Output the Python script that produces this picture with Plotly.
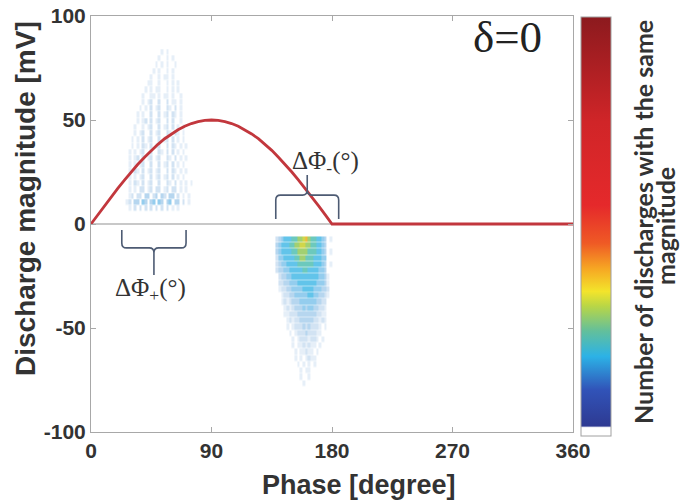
import plotly.graph_objects as go

# Reference half-wave voltage (mV) against phase (degrees)
phase_ref = [0, 5, 10, 15, 20, 25, 30, 35, 40, 45, 50, 55, 60, 65, 70, 75, 80, 85, 90,
             95, 100, 105, 110, 115, 120, 125, 130, 135, 140, 145, 150, 155, 160, 165,
             170, 175, 180, 360]
volt_ref = [0, 4.4, 8.7, 12.9, 17.1, 21.1, 25, 28.7, 32.1, 35.4, 38.3, 41, 43.3, 45.3,
            47, 48.3, 49.2, 49.8, 50, 49.8, 49.2, 48.3, 47, 45.3, 43.3, 41, 38.3, 35.4,
            32.1, 28.7, 25, 21.1, 17.1, 12.9, 8.7, 4.4, 0, 0]

# Discharge counts binned by phase (2 degree bins) and magnitude (3 mV bins).
# Each string is one magnitude row, top row first; '.' means no discharge.
phase_bin = 2
mag_bin = 3

pos_phase_start = 22
pos_mag_top = 84
pos_rows = [
    "...............1.1.........",
    "..............1..1.1.......",
    ".............1.1.1..1......",
    "............1.1..1.1.......",
    "...........1..1.11.1.......",
    "..........11..1..1.1.1.....",
    ".........1.1.11..1.1.1.....",
    "........1..11.1.11.1..1....",
    "........1.12..2..2.11.1....",
    ".......1.1.2.12..21.2.1....",
    "......1.1..2..2.12.21.1....",
    "......1.12.2.12..2.2..1....",
    ".....1..1.12..2.12.2.1.1...",
    ".....1.12..2.12..21.21.1...",
    "....1.1.2.12..2.12.2.1.1...",
    "....1.1.21.2.12..2.21.1.1..",
    "...1.1.12..2..21.2.2.1.1...",
    "...1.12.2.12.12..21.2.1.1..",
    "...1.1.12..2..2.12.2.1.1...",
    "...1.21.2.12.12..2.21.1.1..",
    "...1.1.12..2.12.12.2.1.1...",
    "...1.21.2.12..2..21.2.1.1.1",
    "...1.1.22.12.22.12.22.1.1..",
    "...12.22.33.23.32.33.2.1.1.",
    "..12.33.43.34.43.34.33.2.1.",
    "...1.2.2.2.2.2.2.2.1.1.....",
]

neg_phase_start = 134
neg_mag_top = -6
neg_rows = [
    "..2345556677897665543.1",
    "..3455566778877665543..",
    "..3455556677776665543.1",
    "..2445555667766655544..",
    "..2344555566666655543.1",
    "..2334455555665555443..",
    "...2334455555555554431.",
    "...2233444555555544431.",
    "...1223344445555444332.",
    "....122334444455443321.",
    "....12123334444443322..",
    ".....1212333434433221..",
    ".....1122233333332211..",
    "......121223333322121..",
    "......1.12223232221.1..",
    ".......1.1222322211....",
    "........1.12221221.1...",
    "........1.1121211.1....",
    ".........1.11211.1.....",
    ".........1.1.1211......",
    "..........1.1.1.1......",
    "...........1.11........",
    "...........1..1........",
    "............1..........",
]

# Phase spans marked with braces
dphi_plus = [23, 71]
dphi_minus = [138, 185]

x_ticks = [0, 90, 180, 270, 360]
y_ticks = [-100, -50, 0, 50, 100]
y_tick_text = ["-100", "-50", "0", "50", "100"]

# Apparent colour of the plotted discharge dots by count
dot_scale = [
    [0.000, "#e6eff8"], [0.125, "#d2e3f3"], [0.250, "#b6d6ef"],
    [0.375, "#94cdee"], [0.500, "#62c4ea"], [0.625, "#6cc9bd"],
    [0.750, "#a2d072"], [0.875, "#d0d64a"], [1.000, "#f2b73c"],
]

# Colour bar map (white for zero, then jet-like up to dark red)
bar_scale = [
    [0.000, "#ffffff"], [0.020, "#ffffff"], [0.024, "#2e3a92"],
    [0.110, "#3153b8"], [0.190, "#2cb2e6"], [0.250, "#62bf9c"],
    [0.310, "#b9d646"], [0.345, "#f3e42b"], [0.400, "#f6a623"],
    [0.460, "#ef5a25"], [0.550, "#e5292b"], [0.750, "#d02528"],
    [1.000, "#8c1a1e"],
]

# Plot area in pixels (used for placing the colour bar and free text)
W, H = 684, 503
L, R, T, B = 91, 573, 16, 432
PW, PH = R - L, B - T


def px_to_paper(px, py):
    return (px - L) / PW, (B - py) / PH


def grid(rows, phase_start, mag_top):
    ncol = max(len(r) for r in rows)
    z, ys = [], []
    for i, row in enumerate(rows):
        row = row.ljust(ncol, ".")
        z.append([int(c) if c.isdigit() else None for c in row])
        ys.append(mag_top - (i + 0.5) * mag_bin)
    xs = [phase_start + (j + 0.5) * phase_bin for j in range(ncol)]
    return xs, ys[::-1], z[::-1]


def brace_path(x0, x1, y_end, y_bar, y_tip, rx=3.5, ry=2.4):
    s = 1 if y_bar > y_end else -1
    xc = (x0 + x1) / 2
    return (
        f"M {x0},{y_end} L {x0},{y_bar - s * ry} Q {x0},{y_bar} {x0 + rx},{y_bar} "
        f"L {xc - rx},{y_bar} Q {xc},{y_bar} {xc},{y_bar + s * ry} L {xc},{y_tip} "
        f"M {xc},{y_bar + s * ry} Q {xc},{y_bar} {xc + rx},{y_bar} "
        f"L {x1 - rx},{y_bar} Q {x1},{y_bar} {x1},{y_bar - s * ry} L {x1},{y_end}"
    )


fig = go.Figure()

for rows, p0, m0 in [(pos_rows, pos_phase_start, pos_mag_top),
                     (neg_rows, neg_phase_start, neg_mag_top)]:
    xs, ys, z = grid(rows, p0, m0)
    fig.add_trace(go.Heatmap(
        x=xs, y=ys, z=z, zmin=1, zmax=9, colorscale=dot_scale,
        showscale=False, hoverinfo="skip", ygap=0.5,
    ))

fig.add_trace(go.Scatter(
    x=phase_ref, y=volt_ref, mode="lines",
    line=dict(color="#c2373d", width=2.8), hoverinfo="skip", showlegend=False,
))

# Colour bar for the number of discharges
cb_x, cb_y = px_to_paper(581, 436)
fig.add_trace(go.Scatter(
    x=[None], y=[None], mode="markers", showlegend=False, hoverinfo="skip",
    marker=dict(
        color=[0, 1], cmin=0, cmax=1, colorscale=bar_scale, showscale=True,
        colorbar=dict(
            x=cb_x, xanchor="left", xpad=0,
            y=cb_y, yanchor="bottom", ypad=0,
            len=(436 - 17) / PH, lenmode="fraction", thickness=30,
            outlinewidth=1, outlinecolor="#a0a0a0",
            showticklabels=False, ticks="",
        ),
    ),
))

brace_style = dict(type="path", xref="x", yref="y",
                   line=dict(color="#4d5b73", width=1.6))
fig.add_shape(path=brace_path(dphi_plus[0], dphi_plus[1], -2.9, -11.5, -24.5), **brace_style)
fig.add_shape(path=brace_path(dphi_minus[0], dphi_minus[1], 2.4, 13.9, 23.6), **brace_style)

centered = dict(showarrow=False, xanchor="center", yanchor="middle")
serif = "Liberation Serif"
fig.add_annotation(x=175.5, y=29.8, xref="x", yref="y", **centered,
                   text="ΔΦ<sub>-</sub>(°)", font=dict(family=serif, size=25, color="#333"))
fig.add_annotation(x=44.6, y=-31.7, xref="x", yref="y", **centered,
                   text="ΔΦ<sub>+</sub>(°)", font=dict(family=serif, size=25, color="#333"))
fig.add_annotation(x=311, y=90, xref="x", yref="y", **centered,
                   text="δ=0", font=dict(family=serif, size=45, color="#222"))

# Axis titles and colour bar title
bold = dict(family="Liberation Sans", color="#333", weight="bold")
tx, ty = px_to_paper(359, 485)
fig.add_annotation(x=tx, y=ty, xref="paper", yref="paper", **centered,
                   text="Phase [degree]", font=dict(size=27, **bold))
tx, ty = px_to_paper(25, 199)
fig.add_annotation(x=tx, y=ty, xref="paper", yref="paper", **centered,
                   textangle=-90, text="Discharge magnitude [mV]", font=dict(size=28, **bold))
cb_font = dict(family="Lato", size=25, color="#333", weight="bold")
tx, ty = px_to_paper(643, 222)
fig.add_annotation(x=tx, y=ty, xref="paper", yref="paper", **centered,
                   textangle=-90, text="Number of discharges with the same", font=cb_font)
tx, ty = px_to_paper(665, 226)
fig.add_annotation(x=tx, y=ty, xref="paper", yref="paper", **centered,
                   textangle=-90, text="magnitude", font=cb_font)

axis_font = dict(family="Liberation Sans", size=21, color="#333", weight="bold")
axis_common = dict(
    showgrid=False, showline=True, linecolor="#a8a8a8", linewidth=1, mirror="ticks",
    ticks="inside", ticklen=5, tickcolor="#a8a8a8", tickfont=axis_font,
)

fig.update_xaxes(range=[0, 360], tickvals=x_ticks, zeroline=False, **axis_common)
fig.update_yaxes(range=[-100, 100], tickvals=y_ticks, ticktext=y_tick_text,
                 zeroline=True, zerolinecolor="#c8c8c8", zerolinewidth=2, **axis_common)

fig.update_layout(
    width=W, height=H,
    margin=dict(l=L, r=W - R, t=T, b=H - B, autoexpand=False),
    paper_bgcolor="white", plot_bgcolor="white",
    showlegend=False,
)

fig.write_html("out.html")
